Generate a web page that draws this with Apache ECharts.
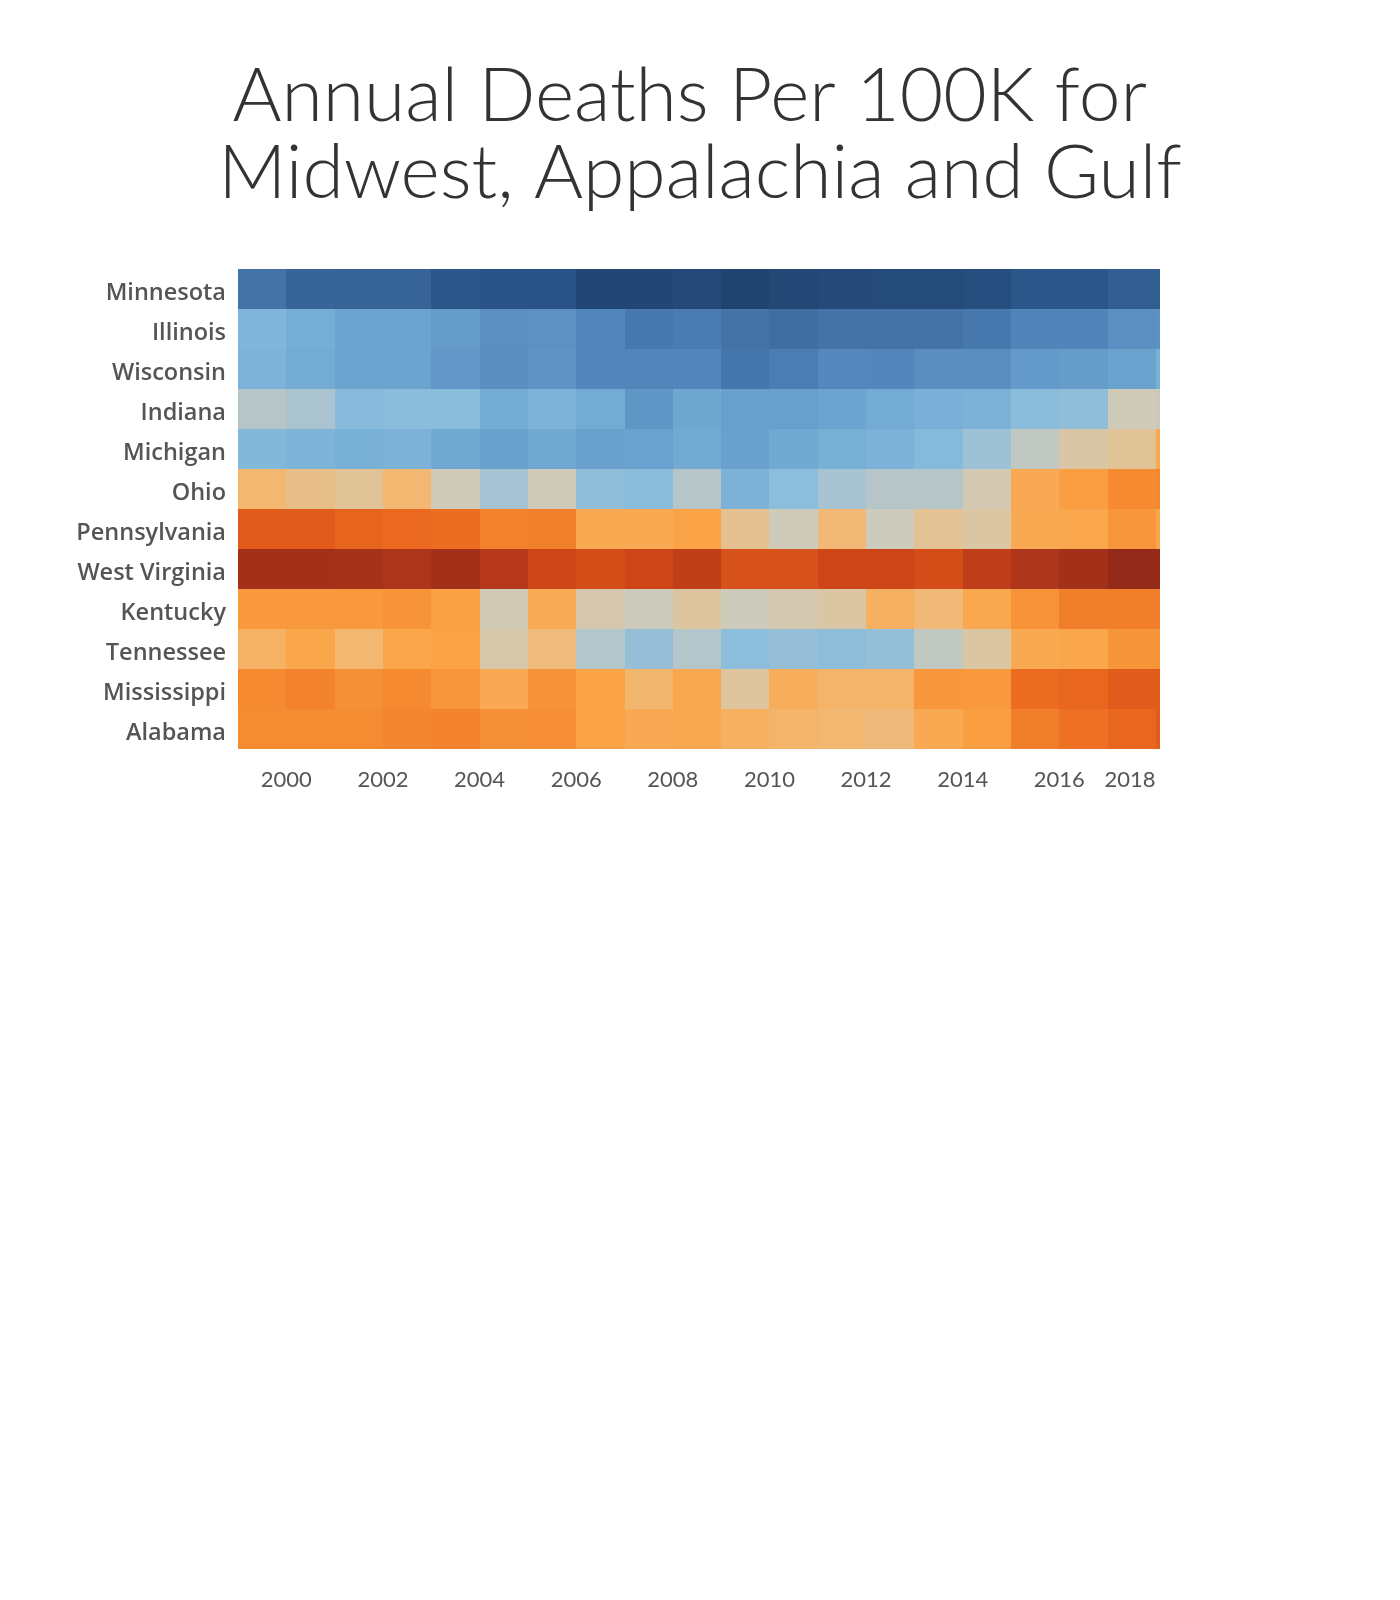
<!DOCTYPE html>
<html>
<head>
<meta charset="utf-8">
<script src="https://cdn.jsdelivr.net/npm/echarts@6/dist/echarts.min.js"></script>
<style>
html,body{margin:0;padding:0;background:#fff;}
#chart{width:1400px;height:1600px;}
</style>
</head>
<body>
<div id="chart"></div>
<script>
// Years shown as columns (1999 column fully, 2018 column clipped at the axis end)
const years = [1999,2000,2001,2002,2003,2004,2005,2006,2007,2008,2009,2010,2011,2012,2013,2014,2015,2016,2017,2018];
const states = ["Minnesota","Illinois","Wisconsin","Indiana","Michigan","Ohio","Pennsylvania","West Virginia","Kentucky","Tennessee","Mississippi","Alabama"];
const tickYears = [2000,2002,2004,2006,2008,2010,2012,2014,2016,2018];

// Annual deaths per 100K
const minnesota    = [791,770,767,768,739,732,732,711,711,716,704,712,716,718,718,721,737,737,753,753];
const illinois     = [903,889,875,875,861,840,844,823,798,805,791,784,791,791,791,800,819,819,840,844];
const wisconsin    = [898,886,875,875,854,838,849,823,821,823,796,807,826,823,837,838,858,861,873,893];
const indiana      = [959,949,912,914,915,886,898,886,851,879,866,866,875,886,894,896,914,921,982,973];
const michigan     = [905,900,893,896,882,868,882,866,870,884,868,882,891,896,908,936,968,998,1012,1078];
const ohio         = [1050,1027,1012,1048,980,945,980,921,915,959,896,917,947,959,959,987,1075,1092,1117,1120];
const pennsylvania = [1169,1169,1159,1155,1150,1127,1129,1076,1076,1085,1020,980,1045,978,1015,1001,1076,1080,1103,1082];
const westVirginia = [1243,1243,1239,1232,1243,1222,1195,1185,1195,1209,1180,1180,1195,1195,1185,1211,1230,1243,1260,1260];
const kentucky     = [1099,1099,1099,1106,1089,984,1071,991,977,1005,978,989,1001,1062,1043,1078,1106,1131,1131,1131];
const tennessee    = [1059,1082,1050,1082,1087,994,1038,957,928,957,917,928,919,926,968,1001,1076,1082,1104,1106];
const mississippi  = [1117,1127,1110,1117,1103,1075,1108,1085,1052,1078,1006,1068,1055,1055,1101,1099,1152,1157,1169,1169];
const alabama      = [1115,1115,1115,1122,1125,1110,1111,1087,1075,1078,1062,1055,1048,1040,1076,1092,1131,1146,1157,1169];

const rows = [minnesota,illinois,wisconsin,indiana,michigan,ohio,pennsylvania,westVirginia,kentucky,tennessee,mississippi,alabama];

const rampColors = ['#20416d','#2a5588','#386597','#4a7cb2','#5b8fc1','#6ca4d0','#86bbdc','#a5c3d2','#cfcbba','#e3c295','#f3b770','#fba447','#f4882f','#ea6820','#d04817','#b3381a','#932a1a'];

const data = [];
rows.forEach((vals, r) => {
  vals.forEach((v, c) => data.push([years[c], r, v]));
});

const chart = echarts.init(document.getElementById('chart'), null, {renderer:'canvas'});
chart.setOption({
  backgroundColor: '#fff',
  animation: false,
  title: {
    text: 'Annual Deaths Per 100K for \nMidwest, Appalachia and Gulf',
    left: 'center',
    top: 58,
    padding: [0, 22, 0, 0],
    textStyle: {
      fontFamily: 'Lato, "Open Sans", sans-serif',
      fontWeight: 300,
      fontSize: 75,
      lineHeight: 77,
      color: '#333333'
    }
  },
  grid: { left: 238, top: 269, width: 922, height: 480, containLabel: false },
  visualMap: {
    show: false,
    type: 'continuous',
    dimension: 2,
    min: 700,
    max: 1260,
    inRange: { color: rampColors }
  },
  xAxis: {
    type: 'value',
    min: 1999,
    max: 2018.083,
    axisLine: { show: false },
    axisTick: { show: false },
    splitLine: { show: false },
    axisLabel: {
      customValues: tickYears,
      margin: 20,
      fontFamily: 'Lato, "Noto Sans", sans-serif',
      fontSize: 22,
      color: '#555555',
      formatter: function (v) {
        return v === 2018 ? '{last|2018}' : String(v);
      },
      rich: {
        last: { padding: [0, 52, 0, 0], fontFamily: 'Lato, "Noto Sans", sans-serif', fontSize: 22, color: '#555555' }
      }
    }
  },
  yAxis: {
    type: 'category',
    inverse: true,
    data: states,
    axisLine: { show: false },
    axisTick: { show: false },
    splitLine: { show: false },
    axisLabel: {
      margin: 12,
      formatter: function (v) { return '{s|' + v + '}'; },
      rich: {
        s: {
          padding: [8, 0, 0, 0],
          fontFamily: '"Open Sans", "Noto Sans", sans-serif',
          fontSize: 23.5,
          fontWeight: 600,
          color: '#555555'
        }
      }
    }
  },
  series: [{
    type: 'custom',
    data: data,
    encode: { x: 0, y: 1 },
    renderItem: function (params, api) {
      const yr = api.value(0);
      const row = api.value(1);
      const p0 = api.coord([yr, row]);
      const p1 = api.coord([yr + 1, row]);
      const h = api.size([0, 1])[1];
      const x0 = Math.round(p0[0]), x1 = Math.round(p1[0]);
      const y0 = Math.round(p0[1] - h / 2), y1 = Math.round(p0[1] + h / 2);
      const rect = { x: x0, y: y0, width: x1 - x0, height: y1 - y0 };
      const cs = params.coordSys;
      const shape = echarts.graphic.clipRectByRect(rect, { x: cs.x, y: cs.y, width: cs.width, height: cs.height });
      if (!shape) return null;
      return { type: 'rect', shape: shape, style: { fill: api.visual('color') } };
    }
  }]
});
</script>
</body>
</html>
